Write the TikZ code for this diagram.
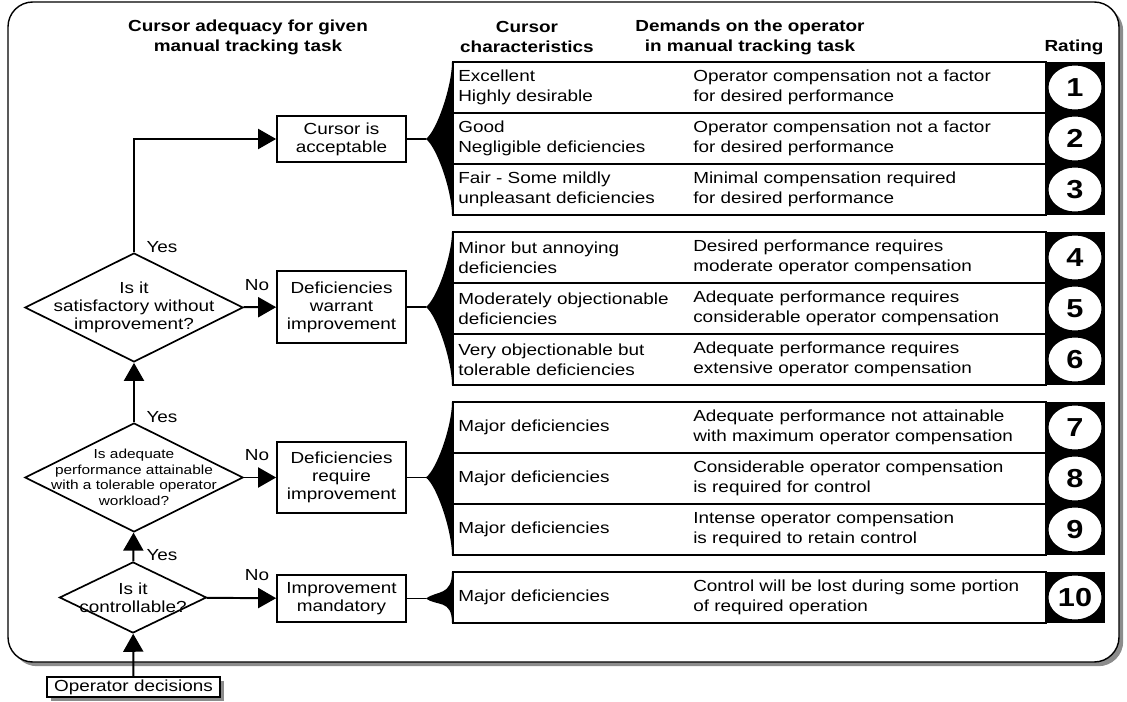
\documentclass[tikz,border=0pt]{standalone}
\usepackage{fontspec}
\setmainfont{Liberation Sans}[FakeStretch=1.18]
\usetikzlibrary{shapes.geometric,arrows.meta,shadows}

\newcommand\bodyfont{\fontsize{11.4pt}{14.2pt}\selectfont}
\newcommand\flowfont{\fontsize{11.4pt}{12.9pt}\selectfont}
\newcommand\tightfont{\fontsize{9.3pt}{11pt}\selectfont}
\newcommand\headfont{\fontsize{11.4pt}{14.2pt}\selectfont\bfseries}
\newcommand\numfont{\fontsize{18.5pt}{18.5pt}\selectfont\bfseries}

\tikzset{
  flowbox/.style={draw, line width=1.2pt, fill=white, align=center, inner sep=0pt, minimum width=3.225cm, font=\flowfont},
  decision/.style={diamond, draw, line width=1.2pt, fill=white, inner sep=0pt},
  flow/.style={line width=1.4pt, -{Triangle[length=0.45cm, width=0.5cm]}},
  link/.style={line width=1.4pt},
  answer/.style={font=\flowfont, inner sep=0pt},
  rowbox/.style={draw, line width=1.2pt, fill=white, anchor=west, inner sep=0pt, minimum width=14.825cm, minimum height=1.275cm},
  rowtext/.style={anchor=west, align=left, inner sep=0pt, font=\bodyfont},
  rating/.style={ellipse, draw, line width=1.4pt, fill=white, inner sep=0pt, minimum width=1.375cm, minimum height=1.15cm, font=\numfont},
  heading/.style={align=center, inner sep=0pt, font=\headfont},
  shade/.style={drop shadow={shadow xshift=3pt, shadow yshift=-3pt, fill=black!45, opacity=1}}
}

\begin{document}
\begin{tikzpicture}[x=0.025cm, y=-0.025cm]
\useasboundingbox (0,0) rectangle (1127,702);

% outer frame
\draw[shade, line width=1pt, fill=white, rounded corners=0.62cm] (8,2) rectangle (1119,662);

% column headings
\node[heading] (hflow) at (248,37) {Cursor adequacy for given\\manual tracking task};
\node[heading] (hchar) at (527,37) {Cursor\\characteristics};
\node[heading] (hdemand) at (750,37) {Demands on the operator\\in manual tracking task};
\node[heading] (hrating) at (1074,47) {Rating};

% decision chain
\node[decision, minimum width=5.45cm, minimum height=2.725cm] (sat) at (134,307.5) {};
\node[font=\flowfont, align=center] at (sat) {Is it\\satisfactory without\\improvement?};
\node[decision, minimum width=5.45cm, minimum height=2.725cm] (adequate) at (134,477.5) {};
\node[font=\tightfont, align=center] at (adequate) {Is adequate\\performance attainable\\with a tolerable operator\\workload?};
\node[decision, minimum width=3.675cm, minimum height=1.775cm] (ctrl) at (133,597.5) {};
\node[font=\flowfont, align=center] at (ctrl) {Is it\\controllable?};
\node[shade, draw, line width=1.2pt, fill=white, font=\flowfont, inner sep=0pt, minimum width=4.325cm, minimum height=0.5cm] (opdec) at (133.5,687) {Operator decisions};

% outcomes
\node[flowbox, minimum height=1.15cm] (acc) at (341.5,139) {Cursor is\\acceptable};
\node[flowbox, minimum height=1.8cm] (warrant) at (341.5,307) {Deficiencies\\warrant\\improvement};
\node[flowbox, minimum height=1.775cm] (require) at (341.5,477.5) {Deficiencies\\require\\improvement};
\node[flowbox, minimum height=1.175cm] (mandatory) at (341.5,598.5) {Improvement\\mandatory};

% yes / no labels
\node[answer] (yes1) at (162,247) {Yes};
\node[answer] (yes2) at (162,417) {Yes};
\node[answer] (yes3) at (162,555) {Yes};
\node[answer] (no1) at (257,285) {No};
\node[answer] (no2) at (257,455) {No};
\node[answer] (no3) at (257,575) {No};

\draw[flow] (opdec) -- (ctrl);
\draw[flow] (ctrl) -- (adequate);
\draw[flow] (adequate) -- (sat);
\draw[flow] (sat.north) |- (acc.west);
\draw[flow] (sat) -- (warrant);
\draw[flow] (adequate) -- (require);
\draw[flow] (ctrl) -- (mandatory);

% black strips behind the ratings
\foreach \top/\bot in {62/215, 232/385, 402/555, 572/623}
  \fill (1045,\top) rectangle (1105,\bot);

% rating rows
\foreach \n/\y/\what/\demand in {
  1/87.5/{Excellent\\Highly desirable}/{Operator compensation not a factor\\for desired performance},
  2/138.5/{Good\\Negligible deficiencies}/{Operator compensation not a factor\\for desired performance},
  3/189.5/{Fair - Some mildly\\unpleasant deficiencies}/{Minimal compensation required\\for desired performance},
  4/257.5/{Minor but annoying\\deficiencies}/{Desired performance requires\\moderate operator compensation},
  5/308.5/{Moderately objectionable\\deficiencies}/{Adequate performance requires\\considerable operator compensation},
  6/359.5/{Very objectionable but\\tolerable deficiencies}/{Adequate performance requires\\extensive operator compensation},
  7/427.5/{Major deficiencies}/{Adequate performance not attainable\\with maximum operator compensation},
  8/478.5/{Major deficiencies}/{Considerable operator compensation\\is required for control},
  9/529.5/{Major deficiencies}/{Intense operator compensation\\is required to retain control},
  10/597.5/{Major deficiencies}/{Control will be lost during some portion\\of required operation}}{
  \node[rowbox] (row\n) at (452,\y) {};
  \node[rowtext] at (458,\y) {\what};
  \node[rowtext] at (693,\y) {\demand};
  \node[rating] (rate\n) at (1075,\y) {\n};
}

% braces joining each outcome to its rows
\foreach \src/\top/\bot in {acc/62/215, warrant/232/385, require/402/555, mandatory/572/623}{
  \coordinate (tip-\src) at ([xshift=0.475cm]\src.east);
  \draw[link] (\src.east) -- (tip-\src);
  \fill (tip-\src) .. controls +(11,-8) and (452,\top+24) .. (452,\top)
    -- (452,\bot) .. controls (452,\bot-24) and +(11,8) .. (tip-\src);
}
\end{tikzpicture}
\end{document}
